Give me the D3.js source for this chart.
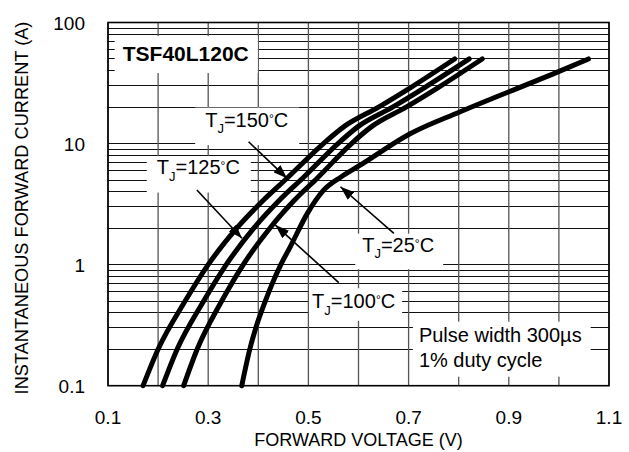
<!DOCTYPE html>
<html>
<head>
<meta charset="utf-8">
<script src="https://cdn.jsdelivr.net/npm/d3@7"></script>
<style>
body{margin:0;background:#fff;}
text{font-family:Arial,"Liberation Sans",sans-serif;fill:#000;}
</style>
</head>
<body>
<svg id="canvas" width="629" height="452"></svg>
<script>
// forward voltage (V) / forward current (A)
let xTicks=[0.1,0.3,0.5,0.7,0.9,1.1];
let yTicks=[0.1,1,10,100];

let tj150=[[0.170,0.1],[0.200,0.2],[0.254,0.5],[0.300,1],[0.357,2],[0.41,3.4],[0.458,5.2],[0.53,10],[0.571,13.8],[0.64,20],[0.704,29],[0.792,50]];
let tj125=[[0.209,0.1],[0.238,0.2],[0.291,0.5],[0.336,1],[0.391,2],[0.442,3.4],[0.489,5.2],[0.559,10],[0.599,13.8],[0.668,20],[0.732,29],[0.821,50]];
let tj100=[[0.251,0.1],[0.278,0.2],[0.327,0.5],[0.370,1],[0.423,2],[0.472,3.4],[0.518,5.2],[0.586,10],[0.626,13.8],[0.695,20],[0.759,29],[0.847,50]];
let tj25=[[0.367,0.1],[0.383,0.2],[0.395,0.3],[0.414,0.5],[0.428,0.7],[0.445,1],[0.464,1.41],[0.498,2.65],[0.53,4.1],[0.565,5.3],[0.60,6.5],[0.704,12.1],[0.803,18.3],[1.004,40],[1.059,50]];

// label text and where it sits (data coords)
let labels=[
  {t:"150",v:0.294,i:13.8,pad:[10,1,11,9]},
  {t:"125",v:0.1974,i:5.6,pad:[10,0,11,9]},
  {t:"25",v:0.6074,i:1.28,pad:[7,0,9,8]},
  {t:"100",v:0.5074,i:0.436,pad:[3,2,7,3]}
];
let arrows=[
  [[0.3806,10.35],[0.4574,5.16]],
  [[0.2774,4.13],[0.3674,1.65]],
  [[0.6706,1.81],[0.564,4.40]],
  [[0.5606,0.709],[0.434,2.12]]
];

let canvas=d3.select("#canvas");
let pL=108,pR=609,pT=22.5,pB=385.7;

let x=d3.scaleLinear().domain([0.1,1.1]).range([pL,pR]);
let y=d3.scaleLog().domain([0.1,100]).range([pB,pT]);

// grid
canvas.append("g").selectAll("line")
  .data(y.ticks())
  .enter().append("line")
  .attr("x1",pL).attr("x2",pR)
  .attr("y1",d=>y(d)).attr("y2",d=>y(d))
  .attr("stroke","#111").attr("stroke-width",1)
  .attr("shape-rendering","crispEdges");

canvas.append("g").selectAll("line")
  .data(x.ticks(10))
  .enter().append("line")
  .attr("x1",d=>x(d)).attr("x2",d=>x(d))
  .attr("y1",pT).attr("y2",pB)
  .attr("stroke","#555").attr("stroke-width",1.3);

// tick labels
canvas.append("g").selectAll("text")
  .data(xTicks)
  .enter().append("text")
  .attr("x",d=>x(d)).attr("y",424)
  .attr("text-anchor","middle")
  .attr("font-size",19)
  .text(d=>d3.format(".1f")(d));

canvas.append("g").selectAll("text")
  .data(yTicks)
  .enter().append("text")
  .attr("x",85).attr("y",d=>y(d)+7.5)
  .attr("text-anchor","end")
  .attr("font-size",19)
  .text(d=>d<1?"0.1":d);

canvas.append("text")
  .attr("x",(pL+pR)/2).attr("y",446)
  .attr("text-anchor","middle").attr("font-size",18)
  .text("FORWARD VOLTAGE (V)");

canvas.append("text")
  .attr("transform","translate(28,208) rotate(-90)")
  .attr("text-anchor","middle").attr("font-size",18.2)
  .text("INSTANTANEOUS FORWARD CURRENT (A)");

// boxed text helper: draws white box behind text
let boxed=(g,pad)=>{
  let b=g.node().getBBox();
  g.insert("rect",":first-child")
    .attr("x",b.x-pad[0]).attr("y",b.y-pad[1])
    .attr("width",b.width+pad[0]+pad[2]).attr("height",b.height+pad[1]+pad[3])
    .attr("fill","#fff");
};

let notes=canvas.append("g");

let part=notes.append("g");
part.append("text")
  .attr("x",x(0.1294)).attr("y",y(48))
  .attr("font-size",21).attr("font-weight","bold")
  .text("TSF40L120C");
boxed(part,[8,6,9,8]);

labels.forEach(l=>{
  let g=notes.append("g");
  let t=g.append("text").attr("x",x(l.v)).attr("y",y(l.i)).attr("font-size",20);
  t.append("tspan").text("T");
  t.append("tspan").attr("font-size",13).attr("dy",6.5).text("J");
  t.append("tspan").attr("dy",-6.5).text("="+l.t);
  t.append("tspan").attr("font-size",12).attr("dy",-4).text("°");
  t.append("tspan").attr("dy",4).text("C");
  boxed(g,l.pad);
});

let pulse=notes.append("g");
pulse.append("text").attr("x",x(0.7206)).attr("y",y(0.231)).attr("font-size",20).text("Pulse width 300µs");
pulse.append("text").attr("x",x(0.7206)).attr("y",y(0.1435)).attr("font-size",20).text("1% duty cycle");
boxed(pulse,[6,2,9,6]);

// frame
canvas.append("rect")
  .attr("x",pL).attr("y",pT)
  .attr("width",pR-pL).attr("height",pB-pT)
  .attr("fill","none").attr("stroke","#000").attr("stroke-width",1.6);

// curves
let line=d3.line()
  .x(d=>x(d[0])).y(d=>y(d[1]))
  .curve(d3.curveMonotoneX);

canvas.append("g").selectAll("path")
  .data([tj150,tj125,tj100,tj25])
  .enter().append("path")
  .attr("d",line)
  .attr("fill","none").attr("stroke","#000")
  .attr("stroke-width",5).attr("stroke-linecap","round");

// arrows
canvas.append("defs").append("marker")
  .attr("id","head").attr("markerUnits","userSpaceOnUse")
  .attr("viewBox","0 0 14 10").attr("markerWidth",14).attr("markerHeight",10)
  .attr("refX",14).attr("refY",5).attr("orient","auto")
  .append("path").attr("d","M0,0L14,5L0,10Z").attr("fill","#000");

canvas.append("g").selectAll("line")
  .data(arrows)
  .enter().append("line")
  .attr("x1",d=>x(d[0][0])).attr("y1",d=>y(d[0][1]))
  .attr("x2",d=>x(d[1][0])).attr("y2",d=>y(d[1][1]))
  .attr("stroke","#000").attr("stroke-width",1.6)
  .attr("marker-end","url(#head)");
</script>
</body>
</html>
